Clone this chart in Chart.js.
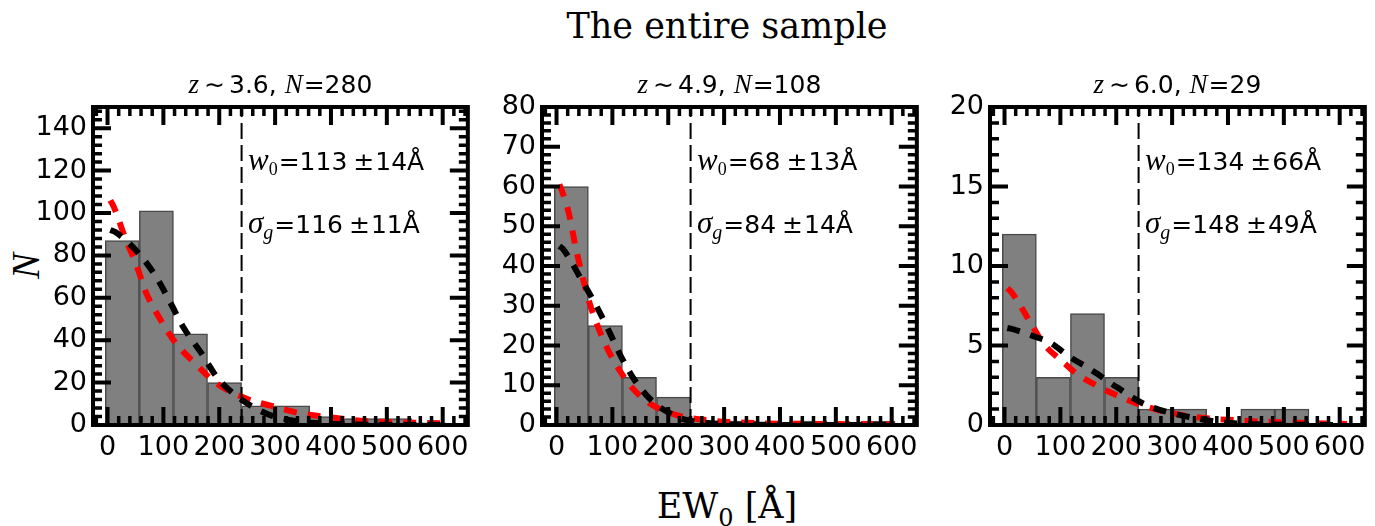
<!DOCTYPE html>
<html>
<head>
<meta charset="utf-8">
<script src="https://cdn.jsdelivr.net/npm/chart.js@4.4.1/dist/chart.umd.min.js"></script>
<style>
  html, body { margin: 0; padding: 0; background: #fff; }
  #fig { position: relative; width: 1375px; height: 526px; overflow: hidden; background: #fff; }
  canvas { position: absolute; top: 0; }
  .lbl { position: absolute; white-space: nowrap; color: #000; line-height: 1; }
  #title { left: 727px; top: 6px; transform: translateX(-50%); font: 35px 'DejaVu Serif'; }
  #xlabel { left: 727px; top: 486px; transform: translateX(-50%); font: 35px 'DejaVu Serif'; }
  #xlabel .sub { font-size: 24px; position: relative; top: 8px; }
  #ylabel { left: 25px; top: 266px; transform: translate(-50%, -50%) rotate(-90deg); font: italic 39px 'Liberation Serif'; }
</style>
</head>
<body>
<div id="fig">
  <div class="lbl" id="title">The entire sample</div>
  <div class="lbl" id="xlabel">EW<span class="sub">0</span> [Å]</div>
  <div class="lbl" id="ylabel">N</div>
  <canvas id="c0" width="463" height="526"></canvas>
  <canvas id="c1" width="463" height="526"></canvas>
  <canvas id="c2" width="463" height="526"></canvas>
</div>
<script>
// histogram bins (EW0 bin centres, Angstrom) and tick labels
const binCenters = [26.5, 87.5, 148.5, 209.5, 270.5, 331.5, 392.5, 453.5, 514.5, 575.5];
const xTicks = [0, 100, 200, 300, 400, 500, 600];
const ewCut = 240;

// z ~ 3.6
const counts36 = [87, 101, 43, 20, 9, 9, 4, 3, 3, 1];
const redX36 = [5, 11, 32, 53, 68, 94, 121, 157, 196, 250, 292, 345, 399, 453, 513, 608];
const redY36 = [106, 103, 88, 74.5, 63, 50, 39, 29, 19.5, 12.3, 9.1, 5.5, 3.6, 2.0, 1.3, 0.8];
const blackX36 = [5, 14, 59, 89, 112, 136, 169, 196, 238, 286, 333, 381, 430, 500, 600];
const blackY36 = [92, 91, 80, 69, 58, 46, 33.5, 22.5, 12.3, 5.2, 2.0, 0.8, 0.3, 0.05, 0];
const yTicks36 = [0, 20, 40, 60, 80, 100, 120, 140];

// z ~ 4.9
const counts49 = [60, 25, 12, 7, 1, 1, 0, 1, 0, 1];
const redX49 = [5, 9, 22, 35, 59, 83, 104, 134, 167, 215, 268, 322, 376, 477, 597];
const redY49 = [60.5, 59.2, 53.3, 44.2, 30.8, 21.7, 15.8, 9.6, 5.4, 2.5, 1.25, 0.67, 0.4, 0.25, 0.15];
const blackX49 = [5, 12, 44, 68, 92, 116, 140, 173, 215, 233, 280, 340, 600];
const blackY49 = [45, 44.2, 36.7, 30.8, 24.2, 17.1, 11.25, 5.8, 2.1, 1.25, 0.4, 0.05, 0];
const yTicks49 = [0, 10, 20, 30, 40, 50, 60, 70, 80];

// z ~ 6.0
const counts60 = [12, 3, 7, 3, 1, 1, 0, 1, 1, 0];
const redX60 = [5, 13, 46, 70, 105, 129, 164, 200, 254, 302, 362, 410, 463, 517, 571, 613];
const redY60 = [8.6, 8.33, 6.46, 5.1, 3.96, 3.23, 2.5, 1.88, 1.15, 0.73, 0.42, 0.31, 0.21, 0.15, 0.1, 0.06];
const blackX60 = [5, 13, 57, 81, 117, 152, 200, 248, 290, 344, 379, 450, 600];
const blackY60 = [6.1, 6.04, 5.52, 5.2, 4.27, 3.54, 2.4, 1.35, 0.83, 0.42, 0.21, 0.05, 0];
const yTicks60 = [0, 5, 10, 15, 20];

const zLabels = ['3.6', '4.9', '6.0'];
const nTotal = [280, 108, 29];
const yMax = [150, 80, 20];
const w0 = [113, 68, 134];
const w0Err = [14, 13, 66];
const sigmaG = [116, 84, 148];
const sigmaGErr = [11, 14, 49];

const SANS = "'DejaVu Sans'";
const MATH = "'Liberation Serif'";

const zip = (xs, ys) => xs.map((x, i) => ({ x, y: ys[i] }));

function drawRich(ctx, segs, x, y, align) {
  let total = 0;
  segs.forEach(s => {
    ctx.font = s.font;
    s.w = ctx.measureText(s.text).width;
    total += s.w + (s.gap || 0);
  });
  let cx = align === 'center' ? x - total / 2 : x;
  segs.forEach(s => {
    cx += s.gap || 0;
    ctx.font = s.font;
    ctx.fillText(s.text, cx, y + (s.dy || 0));
    cx += s.w;
  });
}

// frame, inward ticks on all sides, panel title and fit results
const panelDeco = {
  id: 'panelDeco',
  afterDraw(chart, args, o) {
    const { ctx, chartArea: a, scales: { x, y } } = chart;
    ctx.save();
    ctx.strokeStyle = '#000';
    ctx.lineCap = 'butt';
    const mark = (v, isX, len) => {
      ctx.beginPath();
      if (isX) {
        const px = x.getPixelForValue(v);
        ctx.moveTo(px, a.bottom); ctx.lineTo(px, a.bottom - len);
        ctx.moveTo(px, a.top); ctx.lineTo(px, a.top + len);
      } else {
        const py = y.getPixelForValue(v);
        ctx.moveTo(a.left, py); ctx.lineTo(a.left + len, py);
        ctx.moveTo(a.right, py); ctx.lineTo(a.right - len, py);
      }
      ctx.stroke();
    };
    ctx.lineWidth = 3.5;
    for (let v = Math.ceil(x.min / 20) * 20; v <= x.max; v += 20) {
      if (v % 100 !== 0) mark(v, true, 9);
    }
    for (let v = 0; v <= y.max; v += o.yMinor) {
      if (!o.yTicks.includes(v)) mark(v, false, 9);
    }
    ctx.lineWidth = 4;
    xTicks.forEach(v => mark(v, true, 18));
    o.yTicks.forEach(v => mark(v, false, 18));
    ctx.strokeRect(a.left, a.top, a.right - a.left, a.bottom - a.top);

    ctx.fillStyle = '#000';
    ctx.textAlign = 'left';
    ctx.textBaseline = 'alphabetic';
    const cx = (a.left + a.right) / 2;
    drawRich(ctx, [
      { text: 'z', font: `italic 27px ${MATH}` },
      { text: '\u223C', font: `25px ${SANS}`, gap: 5 },
      { text: o.z + ', ', font: `25px ${SANS}`, gap: 4 },
      { text: 'N', font: `italic 27px ${MATH}` },
      { text: '=' + o.n, font: `25px ${SANS}`, gap: 1 }
    ], cx, a.top - 14, 'center');

    const tx = a.left + 155;
    drawRich(ctx, [
      { text: 'w', font: `italic 31px ${MATH}` },
      { text: '0', font: `18px ${MATH}`, dy: 5 },
      { text: '=' + o.w0, font: `25px ${SANS}`, gap: 1 },
      { text: '\u00B1', font: `25px ${SANS}`, gap: 6 },
      { text: o.w0Err + '\u00C5', font: `25px ${SANS}`, gap: 1 }
    ], tx, a.top + 63, 'left');
    drawRich(ctx, [
      { text: '\u03C3', font: `italic 31px ${MATH}` },
      { text: 'g', font: `italic 20px ${MATH}`, dy: 6 },
      { text: '=' + o.sg, font: `25px ${SANS}`, gap: 1 },
      { text: '\u00B1', font: `25px ${SANS}`, gap: 6 },
      { text: o.sgErr + '\u00C5', font: `25px ${SANS}`, gap: 1 }
    ], tx, a.top + 126, 'left');
    ctx.restore();
  }
};

const panels = [
  { id: 'c0', left: 93, counts: counts36, red: zip(redX36, redY36), black: zip(blackX36, blackY36), yTicks: yTicks36, yMinor: 4 },
  { id: 'c1', left: 542, counts: counts49, red: zip(redX49, redY49), black: zip(blackX49, blackY49), yTicks: yTicks49, yMinor: 2 },
  { id: 'c2', left: 990, counts: counts60, red: zip(redX60, redY60), black: zip(blackX60, blackY60), yTicks: yTicks60, yMinor: 1 }
];

panels.forEach((p, i) => {
  const canvas = document.getElementById(p.id);
  canvas.style.left = (p.left - 80) + 'px';
  new Chart(canvas, {
    type: 'bar',
    data: {
      datasets: [
        {
          type: 'line', order: 0,
          data: [{ x: ewCut, y: 0 }, { x: ewCut, y: yMax[i] }],
          borderColor: '#000', borderWidth: 2, borderDash: [16, 6], pointRadius: 0
        },
        {
          type: 'line', order: 1, data: p.black,
          borderColor: '#000', borderWidth: 6, borderDash: [13, 11], borderCapStyle: 'butt',
          pointRadius: 0, cubicInterpolationMode: 'monotone'
        },
        {
          type: 'line', order: 2, data: p.red,
          borderColor: '#ff0000', borderWidth: 6, borderDash: [13, 11], borderCapStyle: 'butt',
          pointRadius: 0, cubicInterpolationMode: 'monotone'
        },
        {
          type: 'bar', order: 3,
          data: binCenters.map((c, k) => ({ x: c, y: p.counts[k] })),
          backgroundColor: '#808080', borderColor: '#4a4a4a', borderWidth: 1.5,
          borderSkipped: false, barPercentage: 1, categoryPercentage: 1
        }
      ]
    },
    options: {
      responsive: false,
      animation: false,
      events: [],
      layout: { padding: { left: 0, top: 107, right: 8, bottom: 0 } },
      plugins: {
        legend: { display: false },
        tooltip: { enabled: false },
        panelDeco: {
          yTicks: p.yTicks, yMinor: p.yMinor, z: zLabels[i], n: nTotal[i],
          w0: w0[i], w0Err: w0Err[i], sg: sigmaG[i], sgErr: sigmaGErr[i]
        }
      },
      scales: {
        x: {
          type: 'linear', min: -26, max: 645, offset: false,
          grid: { display: false, drawTicks: false }, border: { display: false },
          afterBuildTicks: s => { s.ticks = xTicks.map(v => ({ value: v })); },
          afterFit: s => { s.height = 101; },
          ticks: { color: '#000', padding: 7, maxRotation: 0, font: { family: 'DejaVu Sans', size: 27 } }
        },
        y: {
          min: 0, max: yMax[i],
          grid: { display: false, drawTicks: false }, border: { display: false },
          afterBuildTicks: s => { s.ticks = p.yTicks.map(v => ({ value: v })); },
          afterFit: s => { s.width = 80; },
          ticks: { color: '#000', padding: 6, font: { family: 'DejaVu Sans', size: 27 } }
        }
      }
    },
    plugins: [panelDeco]
  });
});
</script>
</body>
</html>
